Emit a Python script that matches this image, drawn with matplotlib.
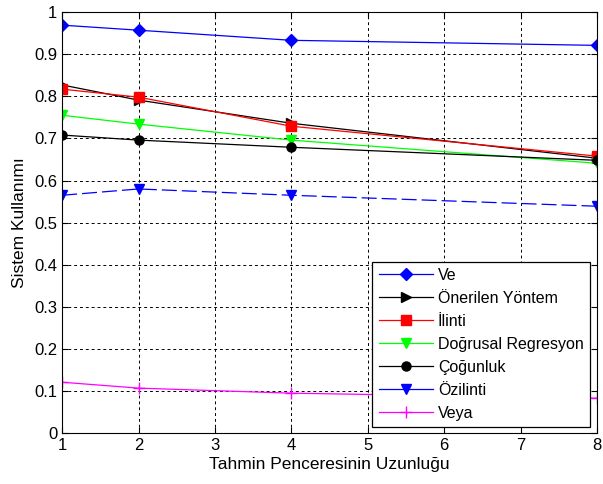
import matplotlib.pyplot as plt
from matplotlib.lines import Line2D

plt.rcParams['font.family'] = ['Liberation Sans', 'DejaVu Sans']

# window length
x = [1, 2, 4, 8]

ve = [0.969, 0.957, 0.933, 0.921]
onerilen = [0.827, 0.791, 0.736, 0.653]
ilinti = [0.817, 0.798, 0.729, 0.658]
dogrusal = [0.755, 0.734, 0.696, 0.641]
cogunluk = [0.708, 0.696, 0.679, 0.648]
ozilinti = [0.565, 0.580, 0.565, 0.539]
veya = [0.121, 0.107, 0.095, 0.083]

labels = ['Ve', 'Önerilen Yöntem', 'İlinti', 'Doğrusal Regresyon',
          'Çoğunluk', 'Özilinti', 'Veya']

fig = plt.figure(figsize=(6.03, 4.84), dpi=100)
ax = fig.add_axes([0.103, 0.105, 0.887, 0.870])

ax.plot(x, ve, color='#0000ff', marker='D', markersize=6, lw=0.9)
ax.plot(x, onerilen, color='black', marker='>', markersize=7, lw=0.9)
ax.plot(x, ilinti, color='red', marker='s', markersize=7, lw=0.9)
ax.plot(x, dogrusal, color='#00ff00', marker='v', markersize=7, lw=0.9)
ax.plot(x, cogunluk, color='black', marker='o', markersize=6.5, lw=0.9)
ax.plot(x, ozilinti, color='#0000ff', marker='v', markersize=7, lw=0.9, dashes=(12, 4))
ax.plot(x, veya, color='#ff00ff', marker='+', markersize=9, lw=0.9)

ax.set_xlim(1, 8)
ax.set_ylim(0, 1)
ax.set_xticks(range(1, 9))
ax.set_yticks([i / 10 for i in range(11)])
ax.set_yticklabels(['0', '0.1', '0.2', '0.3', '0.4', '0.5', '0.6', '0.7', '0.8', '0.9', '1'])
ax.tick_params(direction='in', top=True, right=True, labelsize=12, length=4)
ax.grid(True, color='black', linestyle=(0, (3, 3)), lw=0.7)

ax.set_xlabel('Tahmin Penceresinin Uzunluğu', fontsize=12.5, labelpad=3)
ax.set_ylabel('Sistem Kullanımı', fontsize=12.5, labelpad=5)

# legend shows solid lines for every series
handles = [
    Line2D([], [], color='#0000ff', marker='D', markersize=6, lw=0.9),
    Line2D([], [], color='black', marker='>', markersize=7, lw=0.9),
    Line2D([], [], color='red', marker='s', markersize=7, lw=0.9),
    Line2D([], [], color='#00ff00', marker='v', markersize=7, lw=0.9),
    Line2D([], [], color='black', marker='o', markersize=6.5, lw=0.9),
    Line2D([], [], color='#0000ff', marker='v', markersize=7, lw=0.9),
    Line2D([], [], color='#ff00ff', marker='+', markersize=9, lw=0.9),
]
leg = ax.legend(handles, labels, loc='lower right', bbox_to_anchor=(0.987, 0.014),
                fontsize=11.5, fancybox=False, edgecolor='black', framealpha=1,
                handlelength=3.4, handletextpad=0.3, borderaxespad=0,
                labelspacing=0.5)
leg.get_frame().set_linewidth(0.9)

fig.savefig('out.png', dpi=100)
